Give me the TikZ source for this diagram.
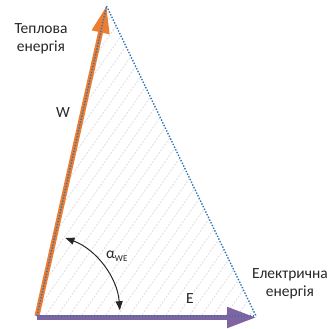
\documentclass[tikz,border=0pt]{standalone}
\usepackage{fontspec}
\setmainfont{Carlito}
\usetikzlibrary{arrows.meta,calc}
\definecolor{wOrange}{HTML}{ED7D31}
\definecolor{ePurple}{HTML}{8064A2}
\definecolor{dotBlue}{HTML}{2E75B6}
\definecolor{hatchGray}{HTML}{DDDDDD}
\definecolor{txt}{HTML}{262626}
\tikzset{
  lbl/.style={font=\fontsize{15.5}{18}\selectfont, text=txt, inner sep=0pt, align=center},
  vecW/.style={draw=wOrange, line width=5pt, -{Triangle[length=27pt,width=17pt]}},
  vecE/.style={draw=ePurple, line width=5pt, -{Triangle[length=29pt,width=20pt]}},
  edge/.style={draw=dotBlue, line width=1.4pt, dash pattern=on 1.4pt off 1.6pt},
  hatch/.style={draw=hatchGray, line width=0.8pt, dash pattern=on 2pt off 1.5pt},
  angarc/.style={draw=black!85, line width=1pt, {Triangle[length=9pt,width=7pt]}-{Triangle[length=9pt,width=7pt]}}
}
\begin{document}
\begin{tikzpicture}[x=1pt,y=1pt]
\useasboundingbox (0,0) rectangle (332,329);
\coordinate (O) at (37,13);
\coordinate (T) at (106.5,323);
\coordinate (R) at (256,13);
\coordinate (Obar) at (37,11.5);
\coordinate (Rbar) at (256,11.5);
% hatch
\begin{scope}
\clip (O) -- (T) -- (R) -- cycle;
\foreach \k in {-252,-240,...,264} {
  \draw[hatch] (\k,0) -- ++(231,330);
}
\end{scope}
% vectors
\draw[vecW] (O) -- (T);
\draw[vecE] (Obar) -- (Rbar);
% dotted triangle edges
\draw[edge] (O) -- (T);
\draw[edge] (T) -- (R);
\draw[edge] (O) -- (R);
% angle
\coordinate (A1) at ($(O)+(4:83)$);
\draw[angarc] (A1) arc[start angle=4, end angle=70, radius=83];
% labels
\node[lbl] (heat) at (41,290) {Теплова\\енергія};
\node[lbl] (W) at (63,216) {W};
\node[lbl, anchor=base west] (alpha) at (106,70) {α{\fontsize{9}{9}\selectfont\raisebox{-2.5pt}{WE}}};
\node[lbl] (E) at (190,30) {E};
\node[lbl] (elec) at (290,45) {Електрична\\енергія};
\end{tikzpicture}
\end{document}
